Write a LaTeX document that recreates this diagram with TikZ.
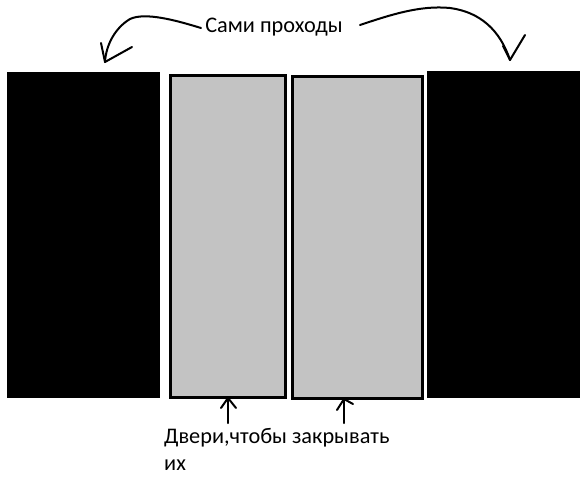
\documentclass[tikz,border=0pt]{standalone}
\usepackage{fontspec}
\setmainfont{Carlito}
\definecolor{doorgray}{RGB}{195,195,195}
\begin{document}
\begin{tikzpicture}[x=1pt,y=-1pt,
  pass/.style={fill=black,draw=none,inner sep=0pt,anchor=north west},
  door/.style={fill=doorgray,draw=black,line width=3pt,inner sep=0pt,anchor=north west},
  hand/.style={line width=2pt,line cap=round,line join=round},
  lbl/.style={font=\fontsize{22.3}{27}\selectfont,inner sep=0pt}]
\useasboundingbox[fill=white] (0,0) rectangle (586,480);
% passages and doors
\node[pass,minimum width=153pt,minimum height=326pt] (p1) at (7,72) {};
\node[pass,minimum width=153pt,minimum height=327pt] (p2) at (427,71) {};
\node[door,minimum width=115pt,minimum height=322pt] (d1) at (168.5,73.5) {};
\node[door,minimum width=130pt,minimum height=322pt] (d2) at (290.5,74.5) {};
% labels
\node[lbl,anchor=base] (top) at (274,32) {Сами проходы};
\node[lbl,anchor=base west,align=left] (bot) at (164,470) {Двери,чтобы закрывать\\их};
% top arrows
\coordinate (tl) at (105,62);
\coordinate (tlw1) at (101,43);
\coordinate (tlw2) at (132,47);
\coordinate (tr) at (510,60);
\coordinate (trw1) at (503,46);
\coordinate (trw2) at (525,35);
\coordinate (tls) at (201,28);
\coordinate (trs) at (360,25);
\draw[hand] (tls) .. controls (175,20) and (145,12) .. (130,19) .. controls (115,28) and (106,45) .. (tl);
\draw[hand] (tlw1) -- (tl) -- (tlw2);
\draw[hand] (trs) .. controls (390,15) and (420,5) .. (450,8) .. controls (480,12) and (500,30) .. (tr);
\draw[hand] (trw1) -- (tr) -- (trw2);
% bottom arrows
\coordinate (b1) at (228,398);
\coordinate (b1s) at (228,423);
\coordinate (b2) at (344,399);
\coordinate (b2s) at (344,423);
\draw[hand] (b1s) -- (b1);
\draw[hand] (221,408) -- (b1) -- (236,408);
\draw[hand] (b2s) -- (b2);
\draw[hand] (337,410) -- (b2) -- (353,404);
\end{tikzpicture}
\end{document}
